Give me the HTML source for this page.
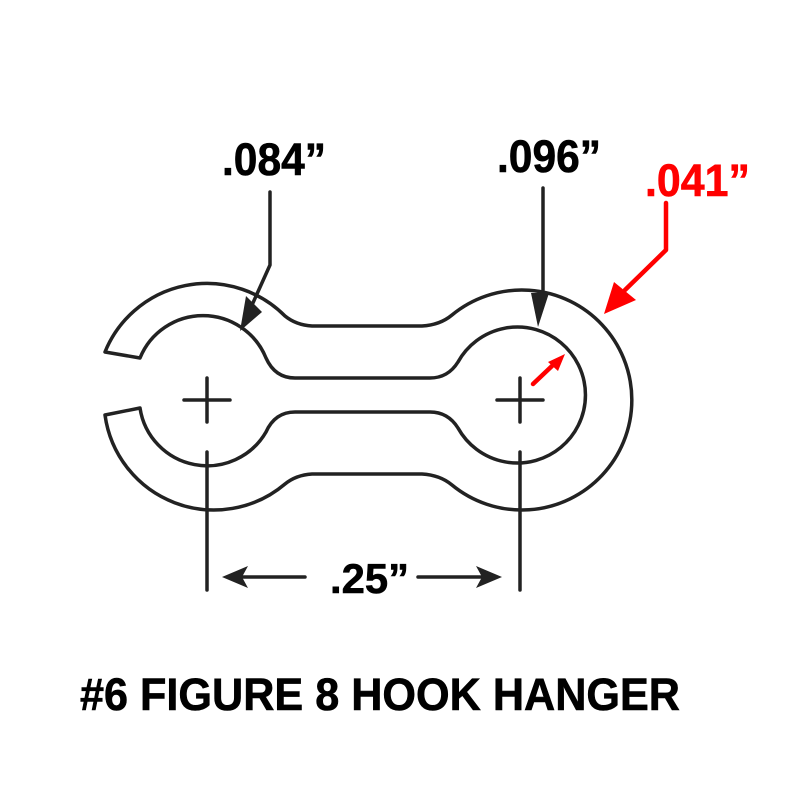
<!DOCTYPE html>
<html><head><meta charset="utf-8"><style>html,body{margin:0;padding:0;background:#fff}svg{display:block}</style></head>
<body>
<svg width="800" height="800" viewBox="0 0 800 800" xmlns="http://www.w3.org/2000/svg">
<g fill="none" stroke="#222" stroke-width="3.5" stroke-linejoin="round" stroke-linecap="round">
<path d="M105,352 A110,110 0 0 1 285,316 Q296,325 312,326 L422,326 Q440,325 452,315 A110,110 0 1 1 452,485 Q440,475 422,474 L312,474 Q296,475 285,484 A110,110 0 0 1 105,415 L140,408
A68,68 0 0 0 266,432 Q275,412 295,412 L430,412 Q448,412 458,428 A68,68 0 1 0 458,362 Q448,378 430,378 L295,378 Q275,378 266,358 A68,68 0 0 0 140,358 Z"/>
<path d="M184,400 H230 M207,378 V422 M497,400 H543 M520,378 V422"/>
<path d="M207,452 V590 M520,452 V590"/>
<path d="M270,192 V265 L252,305 M543,188 V290"/>
<path d="M305,577 H240 M418,577 H485"/>
</g>
<g fill="#222">
<polygon points="240,331 246,296 262,312"/>
<polygon points="538,327 531,293 549,293"/>
<polygon points="222,577 248,566 242,577 248,588"/>
<polygon points="502,577 476,566 482,577 476,588"/>
</g>
<g stroke="#f00" stroke-width="4.5" fill="none" stroke-linecap="round" stroke-linejoin="round">
<path d="M666,203 V250 L625,290"/>
<path d="M533,384 L552,366"/>
</g>
<g fill="#f00">
<polygon points="604,314 614,282 636,300"/>
<polygon points="565,354 548,362 558,371"/>
</g>
<g font-family="Liberation Sans, Arial, sans-serif" font-weight="bold" fill="#000" stroke="#000" stroke-width="0.6">
<text x="222" y="175" font-size="45" textLength="104" lengthAdjust="spacingAndGlyphs">.084”</text>
<text x="497" y="172" font-size="45" textLength="104" lengthAdjust="spacingAndGlyphs">.096”</text>
<text x="645" y="196" font-size="45" fill="#f00" stroke="#f00" textLength="105" lengthAdjust="spacingAndGlyphs">.041”</text>
<text x="330" y="593" font-size="42" textLength="79" lengthAdjust="spacingAndGlyphs">.25”</text>
<text x="80" y="710" font-size="45" textLength="600" lengthAdjust="spacingAndGlyphs">#6 FIGURE 8 HOOK HANGER</text>
</g>
</svg>
</body></html>
